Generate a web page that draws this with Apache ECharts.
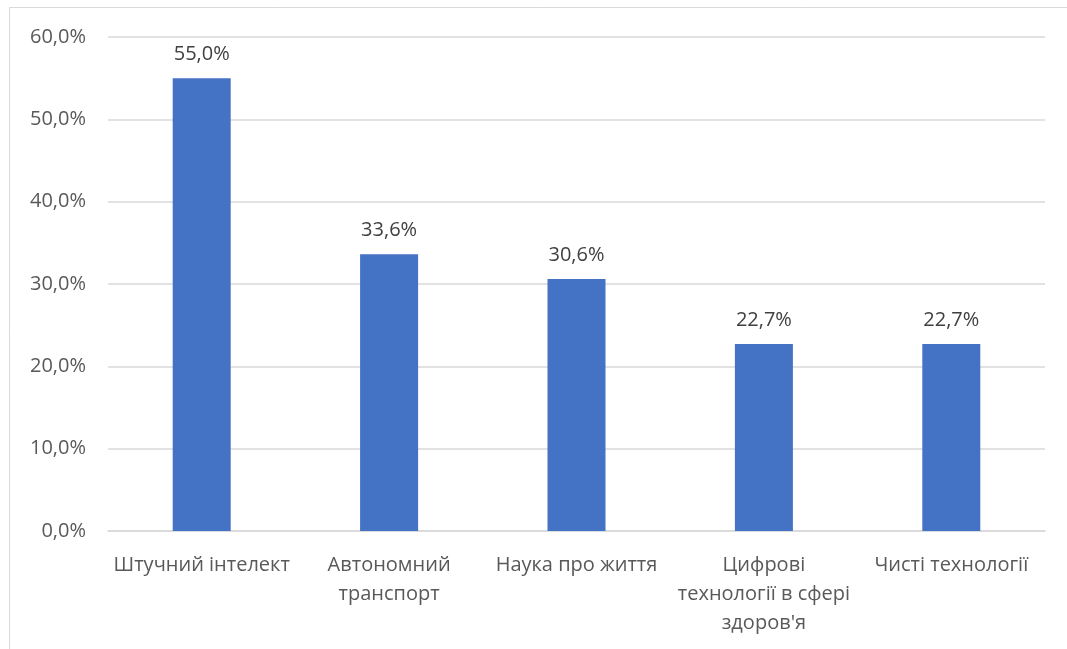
<!DOCTYPE html>
<html><head><meta charset="utf-8">
<script src="https://cdn.jsdelivr.net/npm/echarts@6/dist/echarts.min.js"></script>
<style>html,body{margin:0;padding:0;background:#fff}#c{width:1067px;height:649px}</style>
</head><body><div id="c"></div>
<script>
const categories = ["Штучний інтелект", "Автономний\nтранспорт", "Наука про життя", "Цифрові\nтехнології в сфері\nздоров'я", "Чисті технології"];
const values = [55.0, 33.6, 30.6, 22.7, 22.7];
const yTicks = [0, 10, 20, 30, 40, 50, 60];

const fmt = v => v.toFixed(1).replace('.', ',') + '%';
const chart = echarts.init(document.getElementById('c'));
chart.setOption({
  animation: false,
  textStyle: { fontFamily: 'Open Sans' },
  graphic: [{ type: 'rect', shape: { x: 9.5, y: 7.5, width: 1100, height: 700 }, style: { fill: 'none', stroke: '#d9d9d9', lineWidth: 1 }, z: -1 }],
  grid: { left: 108, right: 22, top: 37, bottom: 118 },
  xAxis: {
    type: 'category', data: categories,
    axisLine: { lineStyle: { color: '#d9d9d9', width: 1.5 } },
    axisTick: { show: false },
    axisLabel: { color: '#595959', fontSize: 20, lineHeight: 29, margin: 20, interval: 0 }
  },
  yAxis: {
    type: 'value', min: yTicks[0], max: yTicks[yTicks.length - 1], interval: 10,
    axisLine: { show: false }, axisTick: { show: false },
    splitLine: { lineStyle: { color: '#d9d9d9', width: 1.5 } },
    axisLabel: { color: '#595959', fontSize: 20, margin: 22, formatter: v => fmt(v) }
  },
  series: [{
    type: 'bar', data: values, barWidth: 58,
    itemStyle: { color: '#4472c4' },
    label: { show: true, position: 'top', distance: 14, color: '#404040', fontSize: 20, formatter: p => fmt(p.value) }
  }]
});
</script></body></html>
